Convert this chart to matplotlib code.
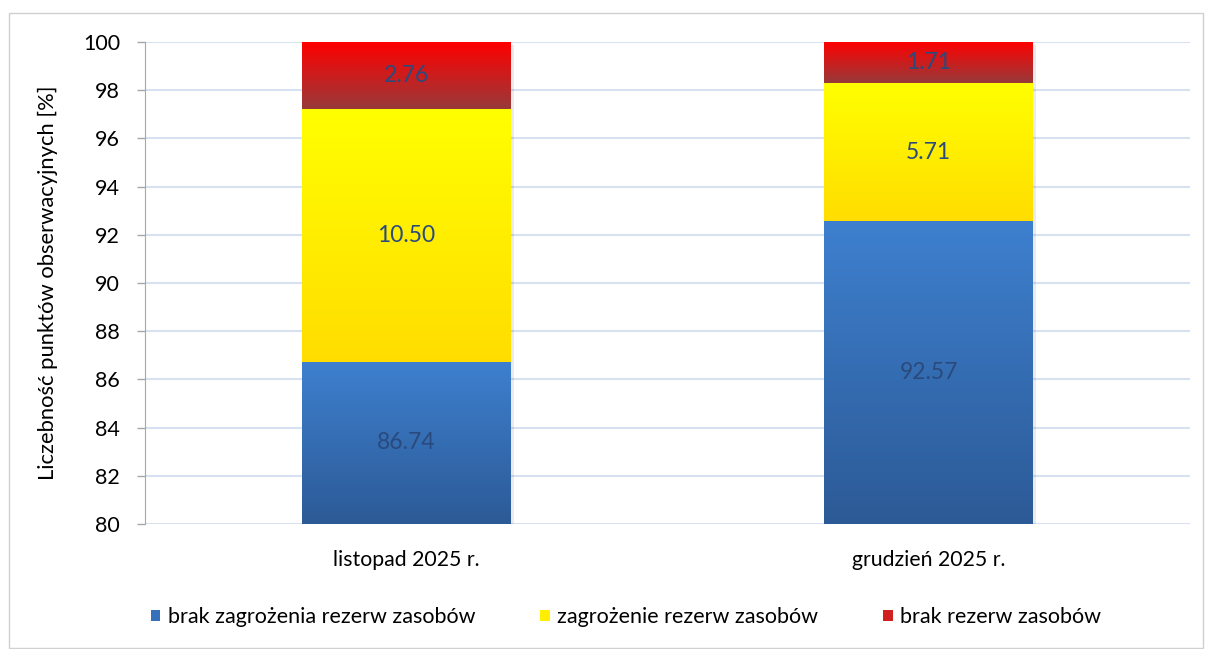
import matplotlib.pyplot as plt
import numpy as np
from matplotlib.colors import LinearSegmentedColormap
from matplotlib.patches import Rectangle, Patch

plt.rcParams['font.family'] = ['Lato', 'DejaVu Sans']

months = ["listopad 2025 r.", "grudzień 2025 r."]
brak_zagrozenia = [86.74, 92.57]
zagrozenie = [10.50, 5.71]
brak_rezerw = [2.76, 1.71]

series = [
    ("brak zagrożenia rezerw zasobów", brak_zagrozenia, "#3e80cf", "#2c5a96"),
    ("zagrożenie rezerw zasobów", zagrozenie, "#ffff00", "#ffdd00"),
    ("brak rezerw zasobów", brak_rezerw, "#ff0000", "#983a3a"),
]

fig = plt.figure(figsize=(12.05, 6.49), dpi=100)
ax = fig.add_axes([145 / 1205, 1 - 524 / 649, 1045 / 1205, 482 / 649])

# outer frame
fig.patches.append(Rectangle((9 / 1205, 0.002), 1194 / 1205, 1 - 13 / 649 - 0.002,
                             transform=fig.transFigure, fill=False,
                             edgecolor="#d0d0d0", lw=1.0, zorder=0))

ymin, ymax = 80, 100
x = np.arange(len(months))
bottom = np.zeros(len(months))
width = 0.40
grad = np.linspace(1, 0, 256).reshape(-1, 1)

handles = []
for name, vals, top_c, bot_c in series:
    bars = ax.bar(x, vals, width, bottom=bottom, color=bot_c, zorder=2, linewidth=0)
    cmap = LinearSegmentedColormap.from_list(name, [bot_c, top_c])
    for b, v in zip(bars, vals):
        x0 = b.get_x()
        x1 = x0 + b.get_width()
        y0 = max(b.get_y(), ymin)
        y1 = min(b.get_y() + b.get_height(), ymax)
        im = ax.imshow(grad, extent=[x0, x1, y0, y1], cmap=cmap, aspect='auto',
                       zorder=3, interpolation='bicubic')
        im.set_clip_path(b)
        # soft shadow
        ax.add_patch(Rectangle((x0 + 0.006, y0 - 0.12), b.get_width(), y1 - y0,
                               color="#000000", alpha=0.08, zorder=1, lw=0))
        ax.text(x0 + b.get_width() / 2, (y0 + y1) / 2, f"{v:.2f}", ha='center',
                va='center', fontsize=16.5, color="#2a4a7e", zorder=4)
    bottom = bottom + np.array(vals)
    handles.append(Patch(facecolor=top_c, edgecolor='none', label=name))

ax.set_xlim(-0.5, 1.5)
ax.set_ylim(ymin, ymax)
ax.set_yticks(np.arange(80, 101, 2))
ax.yaxis.grid(True, color="#d6e1f2", lw=1.5, zorder=0)
ax.set_axisbelow(True)
ax.set_xticks(x)
ax.set_xticklabels(months, fontsize=15.3)
ax.tick_params(axis='x', length=0, pad=19)
ax.tick_params(axis='y', labelsize=15.5, length=6, color="#a6a6a6", width=1, pad=12)
for s in ['top', 'right', 'bottom']:
    ax.spines[s].set_visible(False)
ax.spines['left'].set_color("#a6a6a6")
ax.set_ylabel("Liczebność punktów obserwacyjnych [%]", fontsize=15.8, labelpad=18)

handles[0].set_facecolor("#3670ba")
handles[1].set_facecolor("#ffee00")
handles[2].set_facecolor("#d02020")
fig.legend(handles=handles, loc='center', bbox_to_anchor=(626 / 1205, 1 - 617 / 649),
           ncol=3, frameon=False, fontsize=15.5, handlelength=0.45, handleheight=0.45,
           handletextpad=0.36, columnspacing=3.0)

fig.savefig("out.png", dpi=100)
